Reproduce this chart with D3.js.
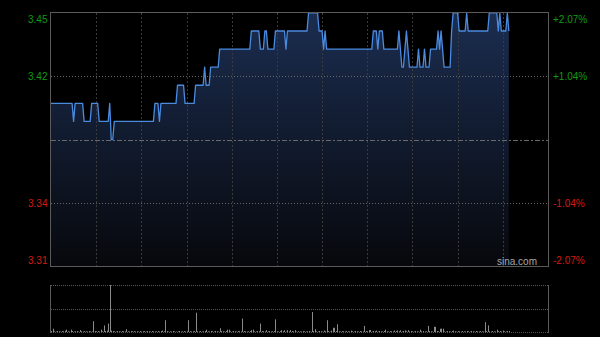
<!DOCTYPE html>
<html><head><meta charset="utf-8">
<script src="https://cdn.jsdelivr.net/npm/d3@7"></script>
<style>html,body{margin:0;padding:0;background:#000;}svg{display:block;}</style>
</head><body>
<svg id="chart" width="600" height="337"></svg>
<script>
// ---------- data ----------
const prevClose = 3.38;
const pctRange = 0.0207;
const totalMinutes = 330;               // 9:30-12:00 + 13:00-16:00
const tickPcts = [0.0207, 0.0104, -0.0104, -0.0207];
const priceLabels = ["3.45", "3.42", "3.34", "3.31"];
const pctLabels = ["+2.07%", "+1.04%", "-1.04%", "-2.07%"];
const timeGridMinutes = [30, 60, 90, 120, 150, 180, 210, 240, 270, 300];

const prices = [
3.40,3.40,3.40,3.40,3.40,3.40,3.40,3.40,3.40,3.40,
3.40,3.40,3.40,3.40,3.40,3.39,3.40,3.40,3.40,3.40,
3.40,3.40,3.39,3.39,3.39,3.39,3.39,3.40,3.40,3.40,
3.40,3.40,3.39,3.39,3.39,3.39,3.39,3.39,3.39,3.40,
3.38,3.38,3.39,3.39,3.39,3.39,3.39,3.39,3.39,3.39,
3.39,3.39,3.39,3.39,3.39,3.39,3.39,3.39,3.39,3.39,
3.39,3.39,3.39,3.39,3.39,3.39,3.39,3.39,3.39,3.40,
3.40,3.40,3.39,3.40,3.40,3.40,3.40,3.40,3.40,3.40,
3.40,3.40,3.40,3.40,3.41,3.41,3.41,3.41,3.41,3.40,
3.40,3.40,3.40,3.40,3.40,3.40,3.41,3.41,3.41,3.41,
3.41,3.41,3.42,3.41,3.41,3.41,3.42,3.42,3.42,3.42,
3.42,3.42,3.43,3.43,3.43,3.43,3.43,3.43,3.43,3.43,
3.43,3.43,3.43,3.43,3.43,3.43,3.43,3.43,3.43,3.43,
3.43,3.43,3.43,3.44,3.44,3.44,3.44,3.44,3.44,3.43,
3.43,3.43,3.44,3.44,3.43,3.43,3.43,3.43,3.43,3.44,
3.44,3.44,3.44,3.44,3.44,3.44,3.43,3.44,3.44,3.44,
3.44,3.44,3.44,3.44,3.44,3.44,3.44,3.44,3.44,3.44,
3.44,3.45,3.45,3.45,3.45,3.45,3.45,3.45,3.44,3.44,
3.44,3.43,3.44,3.43,3.43,3.43,3.43,3.43,3.43,3.43,
3.43,3.43,3.43,3.43,3.43,3.43,3.43,3.43,3.43,3.43,
3.43,3.43,3.43,3.43,3.43,3.43,3.43,3.43,3.43,3.43,
3.43,3.43,3.43,3.43,3.44,3.44,3.44,3.43,3.44,3.44,
3.44,3.43,3.43,3.43,3.43,3.43,3.43,3.43,3.43,3.43,
3.43,3.44,3.43,3.42,3.42,3.43,3.44,3.43,3.42,3.42,
3.42,3.42,3.42,3.42,3.43,3.42,3.42,3.42,3.43,3.42,
3.42,3.42,3.43,3.43,3.43,3.43,3.43,3.44,3.43,3.44,
3.43,3.42,3.42,3.42,3.42,3.42,3.44,3.45,3.45,3.45,
3.45,3.44,3.44,3.44,3.44,3.44,3.45,3.44,3.44,3.44,
3.44,3.44,3.44,3.44,3.44,3.44,3.44,3.44,3.44,3.44,
3.44,3.45,3.45,3.45,3.45,3.45,3.45,3.44,3.45,3.44,
3.44,3.44,3.44,3.45,3.44
];

const volumes = [
20,70,15,10,20,15,10,20,15,25,
50,15,10,50,20,10,15,20,10,40,
15,10,20,15,10,20,15,10,230,20,
15,20,10,50,15,140,20,30,180,1000,
30,20,15,10,20,15,10,20,15,10,
60,15,10,20,15,20,10,15,10,20,
10,15,20,10,20,15,10,20,15,10,
15,20,10,20,30,15,250,20,10,15,
10,20,15,10,15,20,10,15,20,10,
15,250,20,10,15,20,410,15,10,20,
10,15,20,50,15,10,20,15,10,20,
15,10,80,20,15,10,20,50,50,15,
10,20,15,10,20,15,10,285,20,15,
10,15,20,40,50,15,10,20,15,180,
20,15,10,40,15,20,10,15,20,270,
15,10,20,40,15,40,10,40,15,40,
20,15,40,10,20,15,10,20,15,10,
15,20,10,425,20,60,15,10,20,15,
10,30,15,250,20,10,30,90,90,20,
165,15,10,20,15,10,20,15,10,30,
15,10,20,15,10,20,15,10,130,20,
15,40,40,10,20,15,30,10,20,15,
10,20,50,15,10,20,15,10,35,20,
35,15,35,10,20,35,15,40,10,20,
15,10,20,15,10,50,15,20,10,15,
130,20,15,10,110,110,20,15,70,70,
70,15,10,20,15,10,20,30,15,10,
20,15,10,20,15,10,20,15,10,20,
15,10,20,15,10,20,15,10,210,20,
140,15,10,20,15,10,50,15,20,10,
30,15,10,20,20
];

// ---------- drawing ----------
const svg = d3.select("#chart");
const L = 51, R = 548, T = 13, B = 266;
const VT = 285, VB = 332;

const x = d3.scaleLinear().domain([0, totalMinutes]).range([L, R]);
const y = d3.scaleLinear()
  .domain([prevClose * (1 - pctRange), prevClose * (1 + pctRange)])
  .range([B, T]);
const yv = d3.scaleLinear().domain([0, d3.max(volumes)]).range([VB, VT]);

svg.append("rect").attr("width", 600).attr("height", 337).attr("fill", "#000");

const defs = svg.append("defs");
const grad = defs.append("linearGradient").attr("id", "fillGrad")
  .attr("gradientUnits", "userSpaceOnUse")
  .attr("x1", 0).attr("y1", T).attr("x2", 0).attr("y2", B);
grad.append("stop").attr("offset", "0%").attr("stop-color", "#1b2d50");
grad.append("stop").attr("offset", "100%").attr("stop-color", "#07080c");

const pts = prices.map((p, i) => [i, p]);

svg.append("path").datum(pts)
  .attr("fill", "url(#fillGrad)")
  .attr("d", d3.area().x(d => x(d[0])).y0(B).y1(d => y(d[1])));

// vertical grid
const gv = svg.append("g");
gv.selectAll("line").data(timeGridMinutes).join("line")
  .attr("x1", d => Math.round(x(d)) + 0.5).attr("x2", d => Math.round(x(d)) + 0.5)
  .attr("y1", T).attr("y2", B)
  .attr("stroke", "#3a3a3a").attr("stroke-width", 1).attr("stroke-dasharray", "2,2");

// horizontal grid at inner ticks
const innerTicks = tickPcts.filter(p => Math.abs(p) < pctRange);
svg.append("g").selectAll("line").data(innerTicks).join("line")
  .attr("x1", L).attr("x2", R)
  .attr("y1", d => Math.round(y(prevClose * (1 + d))) + 0.5)
  .attr("y2", d => Math.round(y(prevClose * (1 + d))) + 0.5)
  .attr("stroke", "#666").attr("stroke-width", 1).attr("stroke-dasharray", "1,2");

// previous close line
svg.append("line")
  .attr("x1", L).attr("x2", R)
  .attr("y1", Math.round(y(prevClose)) + 0.5).attr("y2", Math.round(y(prevClose)) + 0.5)
  .attr("stroke", "#6a6a6a").attr("stroke-width", 1).attr("stroke-dasharray", "5,2,2,2");

// price line
svg.append("path").datum(pts)
  .attr("fill", "none").attr("stroke", "#4a8be0").attr("stroke-width", 1.3)
  .attr("stroke-linejoin", "round")
  .attr("d", d3.line().x(d => x(d[0])).y(d => y(d[1])));

// borders of main chart
svg.append("rect").attr("x", L - 0.5).attr("y", T - 0.5).attr("width", R - L + 1).attr("height", B - T + 1)
  .attr("fill", "none").attr("stroke", "#5a5a5a").attr("stroke-width", 1);

// labels
const font = "'Liberation Sans', Arial, sans-serif";
const colorOf = d => d > 0 ? "#139a13" : "#d41a10";
function labelY(p, i) {
  const yy = y(prevClose * (1 + p));
  if (i === 0) return yy + 9.5;
  if (i === tickPcts.length - 1) return yy - 2;
  return yy + 3.6;
}
svg.append("g").selectAll("text").data(tickPcts).join("text")
  .attr("x", 47.5).attr("y", (d, i) => labelY(d, i))
  .attr("text-anchor", "end").attr("font-family", font).attr("font-size", 10)
  .attr("fill", d => colorOf(d)).text((d, i) => priceLabels[i]);
svg.append("g").selectAll("text").data(tickPcts).join("text")
  .attr("x", 553).attr("y", (d, i) => labelY(d, i))
  .attr("text-anchor", "start").attr("font-family", font).attr("font-size", 10)
  .attr("fill", d => colorOf(d)).text((d, i) => pctLabels[i]);

// watermark
svg.append("text").attr("x", 537).attr("y", 264.5).attr("text-anchor", "end")
  .attr("font-family", font).attr("font-size", 10).attr("fill", "#a8a8a8").text("sina.com");

// ---------- volume panel ----------
const vgrid = [0, 0.5, 1].map(f => d3.max(volumes) * f);
svg.append("g").selectAll("line").data(vgrid).join("line")
  .attr("x1", L).attr("x2", R)
  .attr("y1", d => Math.round(yv(d)) + 0.5).attr("y2", d => Math.round(yv(d)) + 0.5)
  .attr("stroke", "#555").attr("stroke-width", 1).attr("stroke-dasharray", "1,1");

svg.append("g").selectAll("rect").data(volumes).join("rect")
  .attr("x", (d, i) => Math.round(x(i)))
  .attr("width", 1)
  .attr("y", d => yv(d))
  .attr("height", d => VB - yv(d))
  .attr("fill", "#8a8a8a");

svg.append("line").attr("x1", L - 0.5).attr("x2", L - 0.5).attr("y1", VT).attr("y2", VB + 1)
  .attr("stroke", "#5a5a5a");
svg.append("line").attr("x1", R + 0.5).attr("x2", R + 0.5).attr("y1", VT).attr("y2", VB + 1)
  .attr("stroke", "#5a5a5a");
</script>
</body></html>
